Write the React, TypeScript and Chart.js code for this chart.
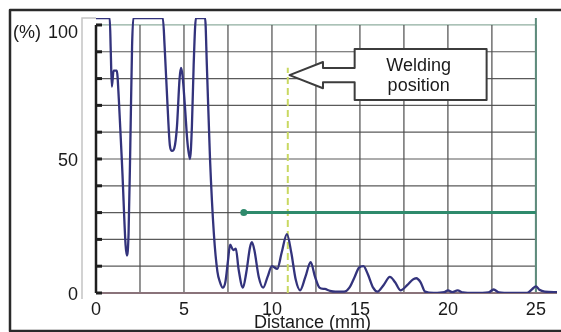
import React, { useEffect, useRef } from "react";
import { Chart, registerables } from "chart.js";

Chart.register(...registerables);

// Distance (mm) and signal (%) of the measured curve
const distanceMm = [
  0, 0.78, 0.84, 0.9, 1.0, 1.18, 1.3, 1.5, 1.68, 1.76, 1.85, 1.95, 2.05, 2.12,
  3.8, 3.9, 4.05, 4.2, 4.32, 4.45, 4.6, 4.75, 4.83, 4.92, 5.05, 5.2, 5.34, 5.45,
  5.55, 5.68, 6.2, 6.3, 6.48, 6.7, 6.9, 7.05, 7.2, 7.35, 7.5, 7.62, 7.8, 7.95,
  8.1, 8.35, 8.55, 8.75, 8.86, 9.0, 9.25, 9.5, 9.75, 10.0, 10.3, 10.55, 10.85,
  11.1, 11.35, 11.6, 11.9, 12.2, 12.45, 12.7, 13.0, 13.3, 13.6, 14.1, 14.4, 14.7,
  14.95, 15.2, 15.45, 15.75, 16.0, 16.35, 16.7, 17.0, 17.3, 17.7, 18.0, 18.2,
  18.45, 18.7, 19.2, 19.8, 20.0, 20.25, 20.55, 20.85, 21.5, 22.3, 22.6, 22.9,
  23.6, 24.5, 24.8, 25.0, 25.2, 25.5, 26.2,
];
const signalPct = [
  102.6, 102.6, 90, 77, 83, 83, 72, 45, 18, 14, 22, 55, 92, 102.6,
  102.6, 92, 72, 55, 53, 54, 62, 80, 84, 81, 70, 56, 50, 62,
  85, 102.6, 102.6, 85, 50, 22, 8, 4, 2, 4, 12, 18, 16, 16.5,
  9, 2, 8, 17, 19, 16, 6, 2, 6, 10, 9, 15, 22,
  15, 5, 1, 6, 11.5, 6, 2, 1.5, 0.8, 0.5, 0.5, 2, 6,
  9.5, 10, 7, 2, 0.5, 3, 6, 4, 1, 3, 5, 5.5,
  4, 0.5, 0, 0.3, 1, 0.3, 1, 0.2, 0, 0.2, 1.3, 0.2,
  0, 0, 1.5, 2.5, 1.2, 0.5, 0.3,
];

// Threshold line
const thresholdX = [8.4, 25];
const thresholdY = [30, 30];

// Welding position marker
const weldX = 10.9;
const weldTopPct = 84;

// Axis ticks and grid
const xTickValues = [0, 5, 10, 15, 20, 25];
const yTickValues = [0, 50, 100];
const yTickLabels = ["0", "50", "100"];
const xGridValues = [0, 2.5, 5, 7.5, 10, 12.5, 15, 17.5, 20, 22.5, 25];
const yGridValues = [0, 10, 20, 30, 40, 50, 60, 70, 80, 90, 100];
const xMax = 26.2;
const yMax = 102.6;

// Callout (data units)
const calloutLines = ["Welding", "position"];
const calloutTip = { x: 11.0, y: 81.3 };
const calloutHeadBaseX = 12.9;
const calloutHeadHalf = 4.9;
const calloutShaftHalf = 2.65;
const calloutBox = { x0: 14.7, x1: 22.2, y0: 72, y1: 91 };

const FONT = 'Arial, "Liberation Sans", sans-serif';

const decor = {
  id: "decor",
  beforeDraw(chart: any) {
    const { ctx, width, height } = chart;
    ctx.save();
    ctx.fillStyle = "#ffffff";
    ctx.fillRect(0, 0, width, height);
    ctx.restore();
  },
  beforeDatasetsDraw(chart: any) {
    const { ctx, scales } = chart;
    const x = scales.x;
    const y = scales.y;
    const px = (v: number) => x.getPixelForValue(v);
    const py = (v: number) => y.getPixelForValue(v);
    ctx.save();
    // inner light frame
    ctx.strokeStyle = "#c4c4c4";
    ctx.lineWidth = 1.5;
    ctx.beginPath();
    ctx.moveTo(82, py(0) + 6);
    ctx.lineTo(82, chart.chartArea.top);
    ctx.lineTo(px(0), chart.chartArea.top);
    ctx.stroke();
    // horizontal grid
    yGridValues.forEach((v) => {
      ctx.strokeStyle = v === 100 ? "#8fae9f" : "#5a5a5a";
      ctx.lineWidth = 1.2;
      ctx.beginPath();
      ctx.moveTo(px(0), py(v));
      ctx.lineTo(px(25), py(v));
      ctx.stroke();
    });
    // vertical grid
    xGridValues.forEach((v) => {
      ctx.strokeStyle = "#4c4c4c";
      ctx.lineWidth = 1.2;
      ctx.beginPath();
      ctx.moveTo(px(v), py(100));
      ctx.lineTo(px(v), py(0));
      ctx.stroke();
    });
    // right boundary
    ctx.strokeStyle = "#5d8c7c";
    ctx.lineWidth = 2;
    ctx.beginPath();
    ctx.moveTo(px(25), chart.chartArea.top);
    ctx.lineTo(px(25), py(0));
    ctx.stroke();
    // baseline
    ctx.strokeStyle = "#8a737a";
    ctx.lineWidth = 2;
    ctx.beginPath();
    ctx.moveTo(px(0), py(0));
    ctx.lineTo(x.right, py(0));
    ctx.stroke();
    // y axis
    ctx.strokeStyle = "#1e1e1e";
    ctx.lineWidth = 2.5;
    ctx.beginPath();
    ctx.moveTo(px(0), py(100));
    ctx.lineTo(px(0), py(0));
    ctx.stroke();
    ctx.lineWidth = 3;
    yGridValues.forEach((v) => {
      ctx.beginPath();
      ctx.moveTo(px(0), py(v));
      ctx.lineTo(px(0) + 6, py(v));
      ctx.stroke();
    });
    ctx.restore();
  },
  afterDatasetsDraw(chart: any) {
    const { ctx, scales, width } = chart;
    const x = scales.x;
    const y = scales.y;
    const px = (v: number) => x.getPixelForValue(v);
    const py = (v: number) => y.getPixelForValue(v);
    ctx.save();
    // callout
    const bx0 = px(calloutBox.x0);
    const bx1 = px(calloutBox.x1);
    const by0 = py(calloutBox.y1);
    const by1 = py(calloutBox.y0);
    const tx = px(calloutTip.x);
    const ty = py(calloutTip.y);
    const hx = px(calloutHeadBaseX);
    const hTop = py(calloutTip.y + calloutHeadHalf);
    const hBot = py(calloutTip.y - calloutHeadHalf);
    const sTop = py(calloutTip.y + calloutShaftHalf);
    const sBot = py(calloutTip.y - calloutShaftHalf);
    ctx.beginPath();
    ctx.moveTo(bx0, by0);
    ctx.lineTo(bx1, by0);
    ctx.lineTo(bx1, by1);
    ctx.lineTo(bx0, by1);
    ctx.lineTo(bx0, sBot);
    ctx.lineTo(hx, sBot);
    ctx.lineTo(hx, hBot);
    ctx.lineTo(tx, ty);
    ctx.lineTo(hx, hTop);
    ctx.lineTo(hx, sTop);
    ctx.lineTo(bx0, sTop);
    ctx.closePath();
    ctx.fillStyle = "#ffffff";
    ctx.fill();
    ctx.strokeStyle = "#3c3c3c";
    ctx.lineWidth = 2;
    ctx.lineJoin = "round";
    ctx.stroke();
    ctx.fillStyle = "#1a1a1a";
    ctx.font = `18px ${FONT}`;
    ctx.textAlign = "center";
    ctx.textBaseline = "middle";
    const cx = (bx0 + bx1) / 2 - 2;
    ctx.fillText(calloutLines[0], cx, (by0 + by1) / 2 - 9);
    ctx.fillText(calloutLines[1], cx, (by0 + by1) / 2 + 11);
    // y tick labels (the top one sits a little below its gridline)
    ctx.textAlign = "right";
    yTickValues.forEach((v, i) => {
      const off = v === 100 ? 8 : 2;
      ctx.fillText(yTickLabels[i], px(0) - 18, py(v) + off);
    });
    // (%) label
    ctx.textAlign = "left";
    ctx.fillText("(%)", 13, 33);
    // x axis title
    ctx.textAlign = "center";
    ctx.fillText("Distance (mm)", px(12.3), 323);
    // outer frame
    ctx.strokeStyle = "#2a2a2a";
    ctx.lineWidth = 2.5;
    ctx.beginPath();
    ctx.moveTo(width, 10);
    ctx.lineTo(10, 10);
    ctx.lineTo(10, 331);
    ctx.lineTo(width, 331);
    ctx.stroke();
    ctx.restore();
  },
};

export default function App() {
  const ref = useRef<HTMLCanvasElement | null>(null);

  useEffect(() => {
    document.body.style.margin = "0";
    const canvas = ref.current;
    if (!canvas) return;
    const chart = new Chart(canvas, {
      type: "line",
      data: {
        datasets: [
          {
            label: "Signal",
            data: distanceMm.map((d, i) => ({ x: d, y: signalPct[i] })),
            borderColor: "#33337c",
            borderWidth: 2.3,
            pointRadius: 0,
            cubicInterpolationMode: "monotone",
            fill: false,
          },
          {
            label: "Threshold",
            data: thresholdX.map((d, i) => ({ x: d, y: thresholdY[i] })),
            borderColor: "#2f8a6c",
            backgroundColor: "#2f8a6c",
            borderWidth: 3,
            pointRadius: [3.5, 0],
            pointBorderWidth: 0,
            fill: false,
          },
          {
            label: "Welding position",
            data: [
              { x: weldX, y: 0 },
              { x: weldX, y: weldTopPct },
            ],
            borderColor: "#c9d862",
            borderWidth: 2,
            borderDash: [7, 4],
            pointRadius: 0,
            fill: false,
          },
        ],
      } as any,
      options: {
        responsive: false,
        animation: false,
        layout: { padding: { top: 18, right: 4, left: 0, bottom: 0 } },
        plugins: {
          legend: { display: false },
          tooltip: { enabled: false },
        },
        scales: {
          x: {
            type: "linear",
            min: 0,
            max: xMax,
            grid: { display: false, drawTicks: false },
            border: { display: false },
            ticks: {
              color: "#1a1a1a",
              font: { family: FONT, size: 18 },
              padding: 6,
              maxRotation: 0,
              autoSkip: false,
              includeBounds: false,
            },
            afterBuildTicks: (scale: any) => {
              scale.ticks = xTickValues.map((v) => ({ value: v }));
            },
            afterFit: (scale: any) => {
              scale.height = 39;
            },
          },
          y: {
            type: "linear",
            min: 0,
            max: yMax,
            grid: { display: false, drawTicks: false },
            border: { display: false },
            ticks: { display: false },
            afterFit: (scale: any) => {
              scale.width = 96;
            },
          },
        },
      } as any,
      plugins: [decor],
    });
    return () => chart.destroy();
  }, []);

  return (
    <div style={{ width: 561, height: 332 }}>
      <canvas ref={ref} width={561} height={332} style={{ display: "block", width: 561, height: 332 }} />
    </div>
  );
}
